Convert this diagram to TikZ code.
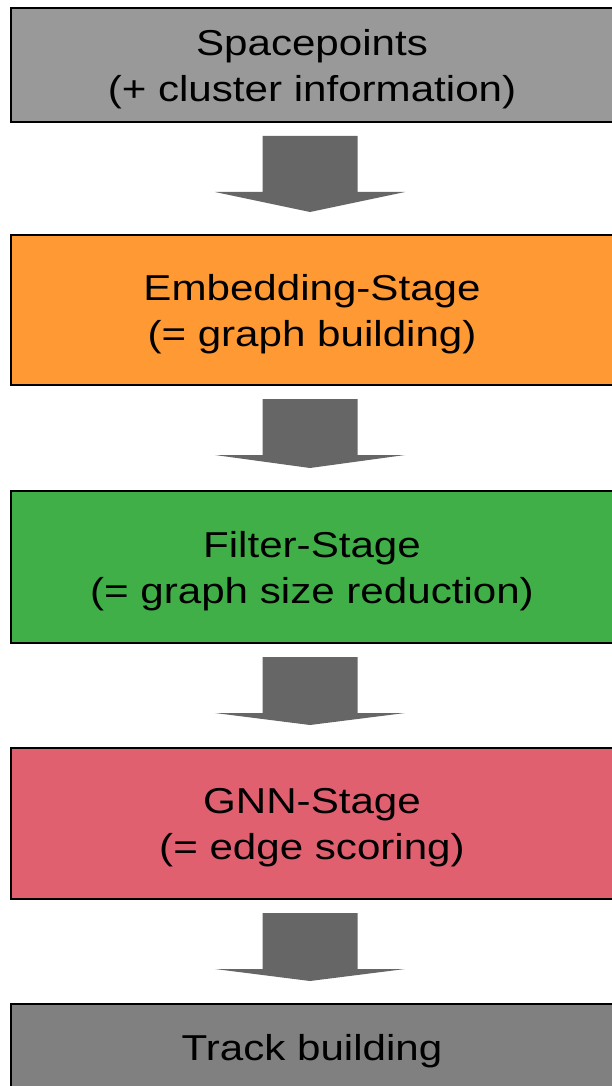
\documentclass[tikz,border=0pt]{standalone}
\usepackage{fontspec}
\setmainfont{Liberation Sans}[FakeStretch=1.17]
\usepackage{xcolor}
\usepackage{tikz}
\usetikzlibrary{calc}

\definecolor{pointgray}{HTML}{999999}
\definecolor{embedorange}{HTML}{FF9933}
\definecolor{filtergreen}{HTML}{40AF48}
\definecolor{gnnred}{HTML}{E06070}
\definecolor{trackgray}{HTML}{808080}
\definecolor{arrowgray}{HTML}{666666}
% strut that pushes the text block a little down in its box
\newcommand{\topstrut}{\rule{0pt}{34pt}}

\begin{document}
\begin{tikzpicture}[x=1pt,y=-1pt,
    stagebox/.style={draw=black,line width=2pt,outer sep=0pt,inner sep=0pt,
      minimum width=602pt,align=center,font=\fontsize{36}{46}\selectfont},
    blockarrow/.style={fill=arrowgray}]
    \useasboundingbox (0,0) rectangle (611,1086);
    \node[stagebox,fill=pointgray,minimum height=114pt] (sp) at (312,65)
      {\topstrut Spacepoints\\(+ cluster information)};
    \node[stagebox,fill=embedorange,minimum height=150pt] (emb) at (312,310)
      {\topstrut Embedding-Stage\\(= graph building)};
    \node[stagebox,fill=filtergreen,minimum height=152pt] (filt) at (312,567)
      {\topstrut Filter-Stage\\(= graph size reduction)};
    \node[stagebox,fill=gnnred,minimum height=151pt] (gnn) at (312,823.5)
      {\topstrut GNN-Stage\\(= edge scoring)};
    \node[stagebox,fill=trackgray,minimum height=86pt] (trk) at (312,1047)
      {\topstrut Track building};
    % block arrows between the stages
    \foreach \a/\b in {sp/emb,emb/filt,filt/gnn,gnn/trk}
      \fill[blockarrow] ($(\a.south)+(-49.5,14)$) -- ++(95,0) -- ++(0,56)
        -- ++(47.5,0) -- ($(\b.north)+(-2,-23)$) -- ($(\a.south)+(-97,70)$)
        -- ++(47.5,0) -- cycle;
\end{tikzpicture}
\end{document}
